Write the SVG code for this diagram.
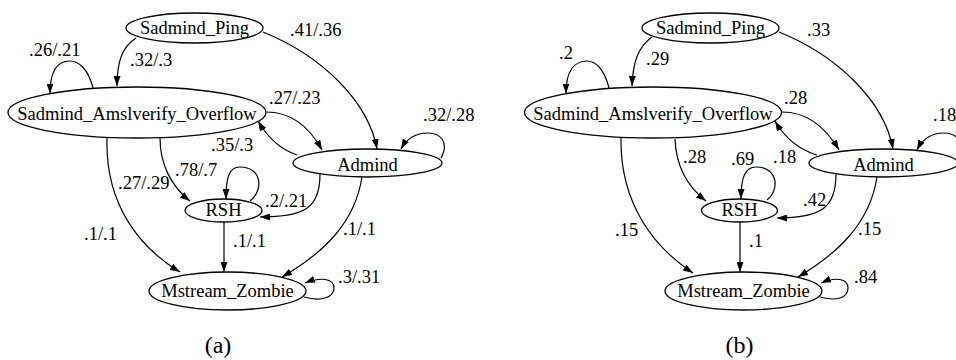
<svg xmlns="http://www.w3.org/2000/svg" width="956" height="360" viewBox="0 0 956 360">
  <style>
    .node ellipse { fill: #ffffff; stroke: #000000; stroke-width: 1.3; }
    .node text { font-size: 18.5px; text-anchor: middle; fill: #000000; }
    .edge { fill: none; stroke: #000000; stroke-width: 1.2; marker-end: url(#arrow); }
    .lbl { font-size: 18.5px; fill: #000000; }
    .cap { font-size: 24px; text-anchor: middle; fill: #000000; }
  </style>
  <defs>
    <marker id="arrow" viewBox="0 0 10 7" refX="10" refY="3.5" markerUnits="userSpaceOnUse" markerWidth="10" markerHeight="7" orient="auto">
      <path d="M0,0 L10,3.5 L0,7 z" fill="#000000"/>
    </marker>
  </defs>
  <rect width="956" height="360" fill="#ffffff"/>

  <g font-family="Liberation Serif, Times New Roman, serif">
  <!-- panel (a) connectors -->
  <g id="edges-a">
    <path class="edge" d="M136,38 C122,47 117,62 117,86"/>
    <path class="edge" d="M93,88 C88,68 78,61 70,61 C58,61 50,70 50,93.5"/>
    <path class="edge" d="M263,32 C320,55 368,100 377,149"/>
    <path class="edge" d="M266,112 C292,112 310,128 322,150"/>
    <path class="edge" d="M297,155 C282,150 268,138 258,121"/>
    <path class="edge" d="M441,158 C450,142 440,133 428,133 C415,133 406,140 401,149"/>
    <path class="edge" d="M160,138 C160,165 172,187 190,201"/>
    <path class="edge" d="M107,138 C105,205 140,248 180,272"/>
    <path class="edge" d="M250,201 C264,190 262,167 240,167 C228,167 226,180 226,199"/>
    <path class="edge" d="M320,174 C320,208 305,217 260,217"/>
    <path class="edge" d="M224,222 L224,272"/>
    <path class="edge" d="M362,177 C355,222 325,252 282,277"/>
    <path class="edge" d="M304,297 C322,302 334,297 334,288 C334,278 320,277 305,283"/>
  </g>
  <g id="labels-a">
    <text class="lbl" x="29" y="56">.26/.21</text>
    <text class="lbl" x="130" y="66">.32/.3</text>
    <text class="lbl" x="290" y="36">.41/.36</text>
    <text class="lbl" x="269" y="104">.27/.23</text>
    <text class="lbl" x="423" y="121">.32/.28</text>
    <text class="lbl" x="211" y="151">.35/.3</text>
    <text class="lbl" x="175" y="176">.78/.7</text>
    <text class="lbl" x="118" y="189">.27/.29</text>
    <text class="lbl" x="84" y="240">.1/.1</text>
    <text class="lbl" x="265" y="207">.2/.21</text>
    <text class="lbl" x="233" y="247">.1/.1</text>
    <text class="lbl" x="343" y="235">.1/.1</text>
    <text class="lbl" x="338" y="283">.3/.31</text>
  </g>
  <g id="a-sadmind-ping" class="node"><ellipse cx="194.5" cy="28" rx="68.5" ry="15"/><text x="194.5" y="34">Sadmind_Ping</text></g>
  <g id="a-sadmind-overflow" class="node"><ellipse cx="137" cy="112.5" rx="129" ry="25.5"/><text x="137" y="119.5">Sadmind_Amslverify_Overflow</text></g>
  <g id="a-admind" class="node"><ellipse cx="367.5" cy="163" rx="74.5" ry="14"/><text x="367.5" y="171">Admind</text></g>
  <g id="a-rsh" class="node"><ellipse cx="223.5" cy="210.5" rx="38.5" ry="11.5"/><text x="223.5" y="216">RSH</text></g>
  <g id="a-mstream-zombie" class="node"><ellipse cx="227.5" cy="291" rx="78.5" ry="19"/><text x="227.5" y="296.5">Mstream_Zombie</text></g>
  <text class="cap" x="218" y="353">(a)</text>

  <!-- panel (b) connectors -->
  <g id="edges-b">
    <path class="edge" d="M652,37 C638,47 633,62 632,86"/>
    <path class="edge" d="M609,88 C604,68 595,61 587,61 C575,61 566,70 566,93.5"/>
    <path class="edge" d="M779,32 C836,55 884,100 893,149"/>
    <path class="edge" d="M782,112 C808,112 826,128 839,150"/>
    <path class="edge" d="M817,155 C800,150 785,138 775,121"/>
    <path class="edge" d="M957,158 C966,142 956,133 944,133 C931,133 922,140 917,150"/>
    <path class="edge" d="M675,139 C676,166 688,187 706,201"/>
    <path class="edge" d="M621,138 C620,205 655,248 693,273"/>
    <path class="edge" d="M767,200 C780,190 778,167 756,167 C744,167 741,180 741,199"/>
    <path class="edge" d="M836,174 C836,208 821,218 777,218"/>
    <path class="edge" d="M740,222 L740,272"/>
    <path class="edge" d="M877,177 C870,222 840,252 798,277"/>
    <path class="edge" d="M820,297 C838,302 848,297 848,288 C848,278 835,277 821,283"/>
  </g>
  <g id="labels-b">
    <text class="lbl" x="559" y="59">.2</text>
    <text class="lbl" x="646" y="65">.29</text>
    <text class="lbl" x="807" y="36">.33</text>
    <text class="lbl" x="784" y="104">.28</text>
    <text class="lbl" x="933" y="121">.18</text>
    <text class="lbl" x="773" y="163">.18</text>
    <text class="lbl" x="731" y="165">.69</text>
    <text class="lbl" x="683" y="163">.28</text>
    <text class="lbl" x="615" y="236">.15</text>
    <text class="lbl" x="803" y="206">.42</text>
    <text class="lbl" x="749" y="247">.1</text>
    <text class="lbl" x="858" y="235">.15</text>
    <text class="lbl" x="854" y="283">.84</text>
  </g>
  <g id="b-sadmind-ping" class="node"><ellipse cx="710.5" cy="28" rx="68.5" ry="15"/><text x="710.5" y="34">Sadmind_Ping</text></g>
  <g id="b-sadmind-overflow" class="node"><ellipse cx="653" cy="112.5" rx="128.5" ry="25.5"/><text x="653" y="119.5">Sadmind_Amslverify_Overflow</text></g>
  <g id="b-admind" class="node"><ellipse cx="883.5" cy="163" rx="74.5" ry="14"/><text x="883.5" y="171">Admind</text></g>
  <g id="b-rsh" class="node"><ellipse cx="739.5" cy="210.5" rx="38" ry="11.5"/><text x="739.5" y="216">RSH</text></g>
  <g id="b-mstream-zombie" class="node"><ellipse cx="743.5" cy="291" rx="78.5" ry="19"/><text x="743.5" y="296.5">Mstream_Zombie</text></g>
  <text class="cap" x="739.5" y="353">(b)</text>
  </g>
</svg>
